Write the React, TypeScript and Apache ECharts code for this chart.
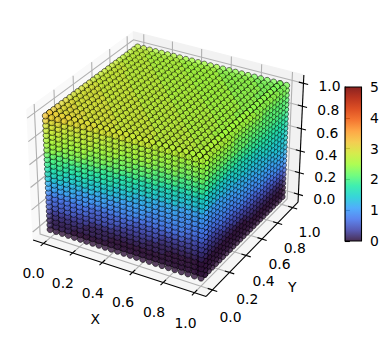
import React, { useEffect, useRef } from "react";
import * as echarts from "echarts";

const lattice = [0,.0417,.0833,.125,.1667,.2083,.25,.2917,.3333,.375,.4167,.4583,.5,.5417,.5833,.625,.6667,.7083,.75,.7917,.8333,.875,.9167,.9583,1];
const tickValues = [0, 0.2, 0.4, 0.6, 0.8, 1];
const tickLabels = ["0.0", "0.2", "0.4", "0.6", "0.8", "1.0"];
const colorbarTicks = [0, 1, 2, 3, 4, 5];
const turbo = ["#30123b","#4145ab","#4675ed","#39a2fc","#1bcfd4","#24eca6","#61fc6c","#a4fc3b","#d1e834","#f3c63a","#fe9b2d","#f36315","#d93806","#b11901","#7a0402"];

// colour values in tenths. y = 0 face: rows top to bottom, columns x = 0..1
const leftFace = [
[32,31,31,31,30,30,30,30,29,29,29,29,29,28,28,28,28,27,27,27,27,27,26,26,26],
[31,30,30,29,29,29,28,28,28,28,27,27,27,27,26,26,26,26,26,25,25,25,25,25,25],
[29,29,29,28,28,28,28,28,27,27,27,27,26,26,26,26,26,25,25,25,25,24,24,24,24],
[28,28,28,27,27,27,27,27,26,26,26,26,25,25,25,25,25,24,24,24,24,23,23,23,23],
[27,27,27,26,26,26,26,26,25,25,25,25,24,24,24,24,24,23,23,23,23,22,22,22,22],
[26,26,26,25,25,25,25,24,24,24,24,23,23,23,22,22,22,21,21,21,21,20,20,20,20],
[25,25,25,24,24,24,24,23,23,23,23,22,22,22,21,21,21,20,20,20,20,19,19,19,19],
[24,24,23,23,23,23,22,22,22,21,21,21,20,20,20,19,19,19,18,18,18,17,17,17,17],
[22,22,21,21,21,21,20,20,20,19,19,19,18,18,18,17,17,17,16,16,16,15,15,15,15],
[20,20,20,19,19,19,19,18,18,18,18,17,17,17,16,16,16,15,15,15,15,14,14,14,14],
[19,19,19,18,18,18,18,17,17,17,17,16,16,16,15,15,15,14,14,14,14,13,13,13,13],
[17,17,17,16,16,16,16,15,15,15,15,14,14,14,13,13,13,12,12,12,12,11,11,11,11],
[16,16,16,15,15,15,15,14,14,14,14,13,13,13,12,12,12,11,11,11,11,10,10,10,10],
[14,14,14,13,13,13,13,13,12,12,12,12,11,11,11,11,11,10,10,10,10,9,9,9,9],
[12,12,12,12,12,11,11,11,11,11,10,10,10,10,10,10,9,9,9,9,9,9,8,8,8],
[11,11,11,11,11,10,10,10,10,10,9,9,9,9,9,9,8,8,8,8,8,8,7,7,7],
[9,9,9,9,9,9,9,8,8,8,8,8,8,8,7,7,7,7,7,7,7,7,6,6,6],
[7,7,7,7,7,7,7,6,6,6,6,6,6,6,5,5,5,5,5,5,5,5,4,4,4],
[6,6,6,6,6,6,6,5,5,5,5,5,5,4,4,4,4,4,3,3,3,3,3,3,3],
[5,5,5,5,5,4,4,4,4,4,4,3,3,3,3,3,3,3,2,2,2,2,2,2,2],
[3,3,3,3,3,3,3,2,2,2,2,2,2,2,2,2,1,1,1,1,1,1,1,1,1],
[2,2,2,2,2,2,1,1,1,1,1,1,1,1,1,1,1,1,1,0,0,0,0,0,0],
[1,1,1,1,1,1,1,1,1,1,0,0,0,0,0,0,0,0,0,0,0,0,0,0,0],
[1,1,1,1,0,0,0,0,0,0,0,0,0,0,0,0,0,0,0,0,0,0,0,0,0],
[0,0,0,0,0,0,0,0,0,0,0,0,0,0,0,0,0,0,0,0,0,0,0,0,0],
];
// x = 1 face: rows top to bottom, columns y = 0.04..1
const rightFace = [
[26,26,26,26,26,26,25,25,25,25,25,25,25,25,24,24,24,24,24,24,24,23,23,23],
[25,25,25,25,25,25,25,25,24,24,24,24,24,24,24,24,23,23,23,23,23,23,23,23],
[24,24,24,24,24,24,24,24,23,23,23,23,23,23,23,23,22,22,22,22,22,22,22,22],
[23,23,23,23,23,23,23,23,22,22,22,22,22,22,22,22,21,21,21,21,21,21,21,21],
[22,22,22,22,22,22,22,22,22,22,22,22,21,21,21,21,21,21,21,21,21,21,21,21],
[20,20,20,20,20,20,20,20,20,20,20,20,20,20,20,20,20,20,20,20,20,20,20,20],
[19,19,19,19,19,19,19,19,19,19,19,19,19,19,19,19,19,19,19,19,19,19,19,19],
[17,17,17,17,17,17,17,17,17,17,17,17,18,18,18,18,18,18,18,18,18,18,18,18],
[15,15,15,15,15,15,15,15,16,16,16,16,16,16,16,16,17,17,17,17,17,17,17,17],
[14,14,14,14,14,14,14,14,15,15,15,15,15,15,15,15,16,16,16,16,16,16,16,16],
[13,13,13,13,13,13,13,13,14,14,14,14,14,14,14,14,15,15,15,15,15,15,15,15],
[11,11,11,11,11,12,12,12,12,12,12,13,13,13,13,13,13,14,14,14,14,14,14,15],
[10,10,10,10,11,11,11,11,11,12,12,12,12,12,12,13,13,13,13,13,14,14,14,14],
[9,9,9,9,10,10,10,10,10,11,11,11,11,11,11,12,12,12,12,12,13,13,13,13],
[8,8,8,8,9,9,9,9,9,10,10,10,10,10,10,11,11,11,11,11,12,12,12,12],
[7,7,7,7,8,8,8,8,8,9,9,9,9,9,9,10,10,10,10,10,11,11,11,11],
[6,6,6,6,7,7,7,7,7,8,8,8,8,8,8,9,9,9,9,9,10,10,10,10],
[4,4,4,4,5,5,5,5,5,6,6,6,6,6,6,7,7,7,7,7,8,8,8,8],
[3,3,3,3,3,4,4,4,4,4,4,4,5,5,5,5,5,5,5,6,6,6,6,6],
[2,2,2,2,2,2,2,2,3,3,3,3,3,3,3,3,4,4,4,4,4,4,4,4],
[1,1,1,1,1,1,1,1,1,1,1,1,2,2,2,2,2,2,2,2,2,2,2,2],
[0,0,0,0,0,0,0,0,0,0,0,0,1,1,1,1,1,1,1,1,1,1,1,1],
[0,0,0,0,0,0,0,0,0,0,0,0,0,0,0,0,0,0,0,0,0,0,0,0],
[0,0,0,0,0,0,0,0,0,0,0,0,0,0,0,0,0,0,0,0,0,0,0,0],
[0,0,0,0,0,0,0,0,0,0,0,0,0,0,0,0,0,0,0,0,0,0,0,0],
];
// z = 1 face: rows x = 0..0.96, columns y = 0.04..1
const topFace = [
[31,31,31,30,30,29,29,29,29,29,29,28,28,28,28,28,28,28,27,27,27,27,27,27],
[31,30,30,30,30,29,29,29,29,29,29,28,28,28,28,28,28,28,27,27,27,27,27,27],
[30,30,30,30,29,29,29,29,29,29,28,28,28,28,28,28,28,27,27,27,27,27,27,27],
[30,30,30,29,29,29,29,29,29,28,28,28,28,28,28,27,27,27,27,27,27,26,26,26],
[30,30,30,29,29,29,29,29,28,28,28,28,28,28,27,27,27,27,27,27,26,26,26,26],
[29,29,29,29,29,29,29,28,28,28,28,28,28,27,27,27,27,27,27,26,26,26,26,26],
[29,29,29,29,29,29,28,28,28,28,28,28,27,27,27,27,27,27,26,26,26,26,26,26],
[29,29,29,29,29,28,28,28,28,28,28,27,27,27,27,27,27,26,26,26,26,26,26,26],
[29,29,29,29,28,28,28,28,28,28,27,27,27,27,27,27,26,26,26,26,26,26,25,25],
[29,29,29,28,28,28,28,28,28,27,27,27,27,27,27,26,26,26,26,26,26,25,25,25],
[28,28,28,28,28,28,28,28,27,27,27,27,27,27,26,26,26,26,26,26,25,25,25,25],
[28,28,28,28,28,28,28,27,27,27,27,27,27,26,26,26,26,26,26,25,25,25,25,25],
[28,28,28,28,28,28,27,27,27,27,27,27,26,26,26,26,26,26,25,25,25,25,25,25],
[28,28,28,28,28,27,27,27,27,27,27,26,26,26,26,26,26,25,25,25,25,25,25,25],
[28,28,28,28,27,27,27,27,27,27,26,26,26,26,26,26,25,25,25,25,25,25,24,24],
[28,28,28,27,27,27,27,27,27,26,26,26,26,26,26,25,25,25,25,25,25,24,24,24],
[27,27,27,27,27,27,27,27,26,26,26,26,26,26,25,25,25,25,25,25,24,24,24,24],
[27,27,27,27,27,27,27,26,26,26,26,26,26,25,25,25,25,25,25,24,24,24,24,24],
[27,27,27,27,27,27,26,26,26,26,26,26,25,25,25,25,25,25,24,24,24,24,24,24],
[27,27,27,27,27,26,26,26,26,26,26,25,25,25,25,25,25,24,24,24,24,24,24,23],
[27,27,27,27,26,26,26,26,26,26,25,25,25,25,25,25,24,24,24,24,24,24,23,23],
[27,27,27,26,26,26,26,26,26,25,25,25,25,25,25,24,24,24,24,24,24,23,23,23],
[26,26,26,26,26,26,25,25,25,25,25,25,24,24,24,24,24,24,23,23,23,23,23,23],
[26,26,26,26,26,25,25,25,25,25,25,24,24,24,24,24,24,24,23,23,23,23,23,23],
];

const DATA_MIN = -0.0729, DATA_MAX = 1.0729;
const BOX = [1.1905, 1.1905, 0.8929];
const U = [0.866, 0.5, 0];
const V = [-0.25, 0.433, 0.866];
const W = [0.433, -0.75, 0.5];
const SCALE = 1665, CX = 168, CY = 157.7;
const FONT = "13.9px 'DejaVu Sans'";

const dot = (a: number[], b: number[]) => a[0] * b[0] + a[1] * b[1] + a[2] * b[2];
function project(x: number, y: number, z: number) {
  const r = [x, y, z].map((v, i) => ((v - DATA_MIN) / (DATA_MAX - DATA_MIN) - 0.5) * BOX[i]);
  const denom = 10 - dot(W, r);
  return { sx: CX + (SCALE * dot(U, r)) / denom, sy: CY - (SCALE * dot(V, r)) / denom, depth: denom };
}
const hexRgb = (h: string) => [1, 3, 5].map((i) => parseInt(h.slice(i, i + 2), 16));
function turboColor(v: number, fade: number) {
  const t = Math.max(0, Math.min(0.9999, v / 5)) * (turbo.length - 1);
  const i = Math.floor(t), f = t - i;
  const a = hexRgb(turbo[i]), b = hexRgb(turbo[i + 1]);
  const c = a.map((p, k) => Math.round((p + (b[k] - p) * f) * (1 - fade) + 255 * fade));
  return `rgb(${c[0]},${c[1]},${c[2]})`;
}

function buildPoints() {
  const raw: { x: number; y: number; z: number; v: number }[] = [];
  // the visible outer shell and the lattice layer right behind it, which shows through the gaps
  [0, 1].forEach((layer) => {
    const y0 = lattice[layer], x1 = lattice[24 - layer], z1 = lattice[24 - layer];
    leftFace.forEach((row, r) => row.forEach((t, c) => raw.push({ x: lattice[c], y: y0, z: lattice[24 - r], v: t / 10 })));
    rightFace.forEach((row, r) => row.forEach((t, c) => raw.push({ x: x1, y: lattice[c + 1], z: lattice[24 - r], v: t / 10 })));
    topFace.forEach((row, r) => row.forEach((t, c) => raw.push({ x: lattice[r], y: lattice[c + 1], z: z1, v: t / 10 })));
  });
  const pts = raw.map((p) => ({ ...p, ...project(p.x, p.y, p.z) }));
  pts.sort((a, b) => b.depth - a.depth);
  const dMin = pts[pts.length - 1].depth, dMax = pts[0].depth;
  return pts.map((p) => {
    const far = (p.depth - dMin) / (dMax - dMin);
    return {
      value: [p.sx, p.sy],
      itemStyle: { color: turboColor(p.v, far * 0.03), borderColor: `rgba(0,0,0,${0.85 - far * 0.2})` },
    };
  });
}

function sceneChildren(api: any) {
  const pt = (x: number, y: number, z: number) => {
    const p = project(x, y, z);
    return api.coord([p.sx, p.sy]);
  };
  const lo = DATA_MIN, hi = DATA_MAX;
  const kids: any[] = [];
  const pane = (pts: number[][], fill: string) =>
    kids.push({ type: "polygon", shape: { points: pts }, style: { fill, stroke: fill, lineWidth: 1 } });
  pane([pt(lo, lo, lo), pt(lo, hi, lo), pt(lo, hi, hi), pt(lo, lo, hi)], "#f9f9f9");
  pane([pt(lo, hi, lo), pt(hi, hi, lo), pt(hi, hi, hi), pt(lo, hi, hi)], "#f2f2f2");
  pane([pt(lo, lo, lo), pt(hi, lo, lo), pt(hi, hi, lo), pt(lo, hi, lo)], "#f6f6f6");
  const poly = (pts: number[][], stroke: string, lineWidth: number) =>
    kids.push({ type: "polyline", shape: { points: pts }, style: { fill: "none", stroke, lineWidth } });
  tickValues.forEach((t) => {
    poly([pt(t, lo, lo), pt(t, hi, lo), pt(t, hi, hi)], "#b0b0b0", 1.1);
    poly([pt(hi, t, lo), pt(lo, t, lo), pt(lo, t, hi)], "#b0b0b0", 1.1);
    poly([pt(lo, lo, t), pt(lo, hi, t), pt(hi, hi, t)], "#b0b0b0", 1.1);
  });
  poly([pt(lo, lo, lo), pt(hi, lo, lo)], "#000", 1.1);
  poly([pt(hi, lo, lo), pt(hi, hi, lo)], "#000", 1.1);
  poly([pt(hi, hi, lo), pt(hi, hi, hi)], "#000", 1.1);
  const d = 0.03;
  const text = (s: string, p: number[], dx: number, dy: number) =>
    kids.push({
      type: "text",
      style: { text: s, x: p[0] + dx, y: p[1] + dy, font: FONT, fill: "#000", align: "center", verticalAlign: "middle" },
    });
  tickValues.forEach((t, i) => {
    poly([pt(t, lo + d, lo), pt(t, lo - d, lo)], "#000", 1.1);
    poly([pt(hi - d, t, lo), pt(hi + d, t, lo)], "#000", 1.1);
    poly([pt(hi - d, hi, t), pt(hi + d, hi, t)], "#000", 1.1);
    const a = pt(t, lo, lo);
    text(tickLabels[i], a, -10 + t, 30);
    const b = pt(hi, t, lo);
    text(tickLabels[i], b, 18 - t, 27 - 3 * t);
    const c = pt(hi, hi, t);
    text(tickLabels[i], c, 26, 5 - 2 * t);
  });
  const xl = pt(0.5, lo, lo);
  text("X", xl, -22, 52);
  const yl = pt(hi, 0.5, lo);
  text("Y", yl, 38, 40);
  return kids;
}

export default function App() {
  const ref = useRef<HTMLDivElement>(null);
  useEffect(() => {
    const chart = echarts.init(ref.current!, undefined, { renderer: "svg" });
    chart.setOption({
      animation: false,
      backgroundColor: "#fff",
      grid: [
        { left: 0, top: 0, width: 389, height: 341 },
        { left: 345, top: 87, width: 16.5, height: 154 },
      ],
      xAxis: [
        { type: "value", min: 0, max: 389, show: false, gridIndex: 0 },
        { type: "value", min: 0, max: 1, show: false, gridIndex: 1 },
      ],
      yAxis: [
        { type: "value", min: 0, max: 341, inverse: true, show: false, gridIndex: 0 },
        {
          type: "value",
          min: 0,
          max: 5,
          interval: 1,
          gridIndex: 1,
          position: "right",
          axisLine: { show: true, lineStyle: { color: "#000", width: 1.1 } },
          axisTick: { show: true, length: 4.9, lineStyle: { color: "#000", width: 1.1 } },
          splitLine: { show: false },
          axisLabel: {
            margin: 8.5,
            color: "#000",
            fontFamily: "DejaVu Sans",
            fontSize: 13.9,
            formatter: (v: number) => (colorbarTicks.includes(v) ? String(v) : ""),
          },
        },
      ],
      series: [
        {
          type: "custom",
          xAxisIndex: 0,
          yAxisIndex: 0,
          silent: true,
          clip: false,
          z: 1,
          data: [[0, 0]],
          renderItem: (_: any, api: any) => ({ type: "group", children: sceneChildren(api) }),
        },
        {
          type: "scatter",
          xAxisIndex: 0,
          yAxisIndex: 0,
          silent: true,
          z: 2,
          symbol: "circle",
          symbolSize: 6.3,
          progressive: 0,
          itemStyle: { borderWidth: 0.95 },
          data: buildPoints(),
        },
        {
          type: "custom",
          xAxisIndex: 1,
          yAxisIndex: 1,
          silent: true,
          clip: false,
          z: 3,
          data: [[0, 0]],
          renderItem: (_: any, api: any) => {
            const a = api.coord([0, 5]);
            const b = api.coord([1, 0]);
            const stops = turbo.map((c, i) => ({ offset: 1 - i / (turbo.length - 1), color: c }));
            return {
              type: "group",
              children: [
                {
                  type: "rect",
                  shape: { x: a[0], y: a[1], width: b[0] - a[0], height: b[1] - a[1] },
                  style: { fill: new echarts.graphic.LinearGradient(0, 0, 0, 1, stops.reverse()), opacity: 0.88 },
                },
                {
                  type: "rect",
                  shape: { x: a[0], y: a[1], width: b[0] - a[0], height: b[1] - a[1] },
                  style: { fill: "none", stroke: "#000", lineWidth: 1.1 },
                },
              ],
            };
          },
        },
      ],
    });
    return () => chart.dispose();
  }, []);
  return <div ref={ref} style={{ position: "fixed", left: 0, top: 0, width: 389, height: 341 }} />;
}
